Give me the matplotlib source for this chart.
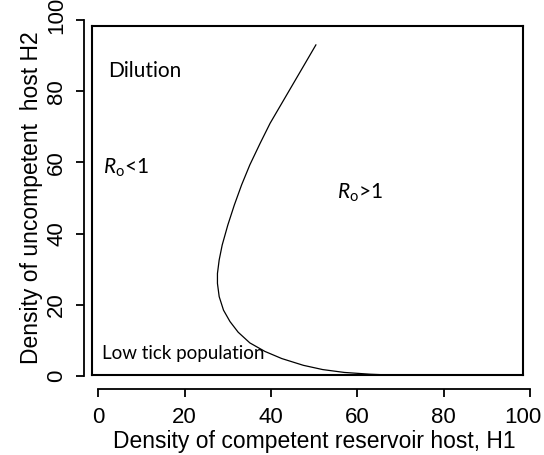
import matplotlib
matplotlib.use("Agg")
import matplotlib.pyplot as plt
from matplotlib.transforms import ScaledTranslation

# Boundary curve R0 = 1
h1 = [50.4, 47.9, 45.2, 42.5, 39.8, 37.5, 35.1, 33.2, 31.5, 30.0, 28.7, 28.0, 27.6,
      27.6, 28.0, 29.0, 30.5, 32.4, 35.1, 38.6, 42.5, 47.5, 52.0, 57.0, 63.0, 69.0]
h2 = [93.0, 87.8, 82.2, 76.6, 71.0, 65.4, 59.3, 53.7, 48.0, 42.4, 36.8, 32.6, 28.8,
      26.0, 22.3, 18.5, 15.3, 12.3, 9.3, 6.9, 4.9, 3.0, 1.8, 1.0, 0.5, 0.2]

xticks = [0, 20, 40, 60, 80, 100]
yticks = [0, 20, 40, 60, 80, 100]

plt.rcParams['mathtext.fontset'] = 'custom'
plt.rcParams['mathtext.it'] = 'Lato:italic'
plt.rcParams['mathtext.rm'] = 'Lato'

W, H = 544, 455
fig = plt.figure(figsize=(W / 100, H / 100), dpi=100)

# frame box (separate axes, R-like box)
fb = fig.add_axes([91.7 / W, (H - 375) / H, (523 - 91.7) / W, (375 - 26) / H])
fb.set_xticks([])
fb.set_yticks([])
for s in fb.spines.values():
    s.set_linewidth(1.5)
fb.patch.set_alpha(0)

ax = fig.add_axes([98.3 / W, (H - 376) / H, (530 - 98.3) / W, (376 - 20) / H])
ax.patch.set_alpha(0)
ax.set_xlim(0, 100)
ax.set_ylim(0, 100)
ax.plot(h1, h2, color='black', lw=0.9, clip_on=False, solid_joinstyle='round')

for side in ['top', 'right']:
    ax.spines[side].set_visible(False)
ax.spines['left'].set_position(('outward', 10))
ax.spines['bottom'].set_position(('outward', 9))
ax.spines['left'].set_linewidth(1.3)
ax.spines['bottom'].set_linewidth(1.3)
ax.set_xticks(xticks)
ax.set_yticks(yticks)
ax.tick_params(axis='both', length=6, width=1.3, labelsize=16)
ax.tick_params(axis='x', pad=7)
ax.tick_params(axis='y', pad=6.5, labelrotation=90)
for lab in ax.get_yticklabels():
    lab.set_va('center')
for lab in ax.get_xticklabels() + ax.get_yticklabels():
    lab.set_fontfamily('Liberation Sans')

xl = ax.get_xticklabels()[-1]
xl.set_transform(xl.get_transform() + ScaledTranslation(-7 / 100, 0, fig.dpi_scale_trans))
yl = ax.get_yticklabels()[-1]
yl.set_transform(yl.get_transform() + ScaledTranslation(0, 5 / 100, fig.dpi_scale_trans))

ax.set_xlabel('Density of competent reservoir host, H1', fontsize=16.5,
              fontfamily='Liberation Sans', labelpad=2)
ax.set_ylabel('Density of uncompetent  host H2', fontsize=16.5,
              fontfamily='Liberation Sans', labelpad=2)

ax.text(10.8, 85.7, 'Dilution', fontsize=15, fontfamily='Lato', ha='center', va='center')
ax.text(6.5, 58.4, r'$R_{\mathrm{o}}$<1', fontsize=15, fontfamily='Lato', ha='center', va='center')
ax.text(60.6, 51.4, r'$R_{\mathrm{o}}$>1', fontsize=15, fontfamily='Lato', ha='center', va='center')
ax.text(0.8, 6.4, 'Low tick population', fontsize=13.5, fontfamily='Lato', ha='left', va='center')

fig.savefig('out.png', dpi=100)
